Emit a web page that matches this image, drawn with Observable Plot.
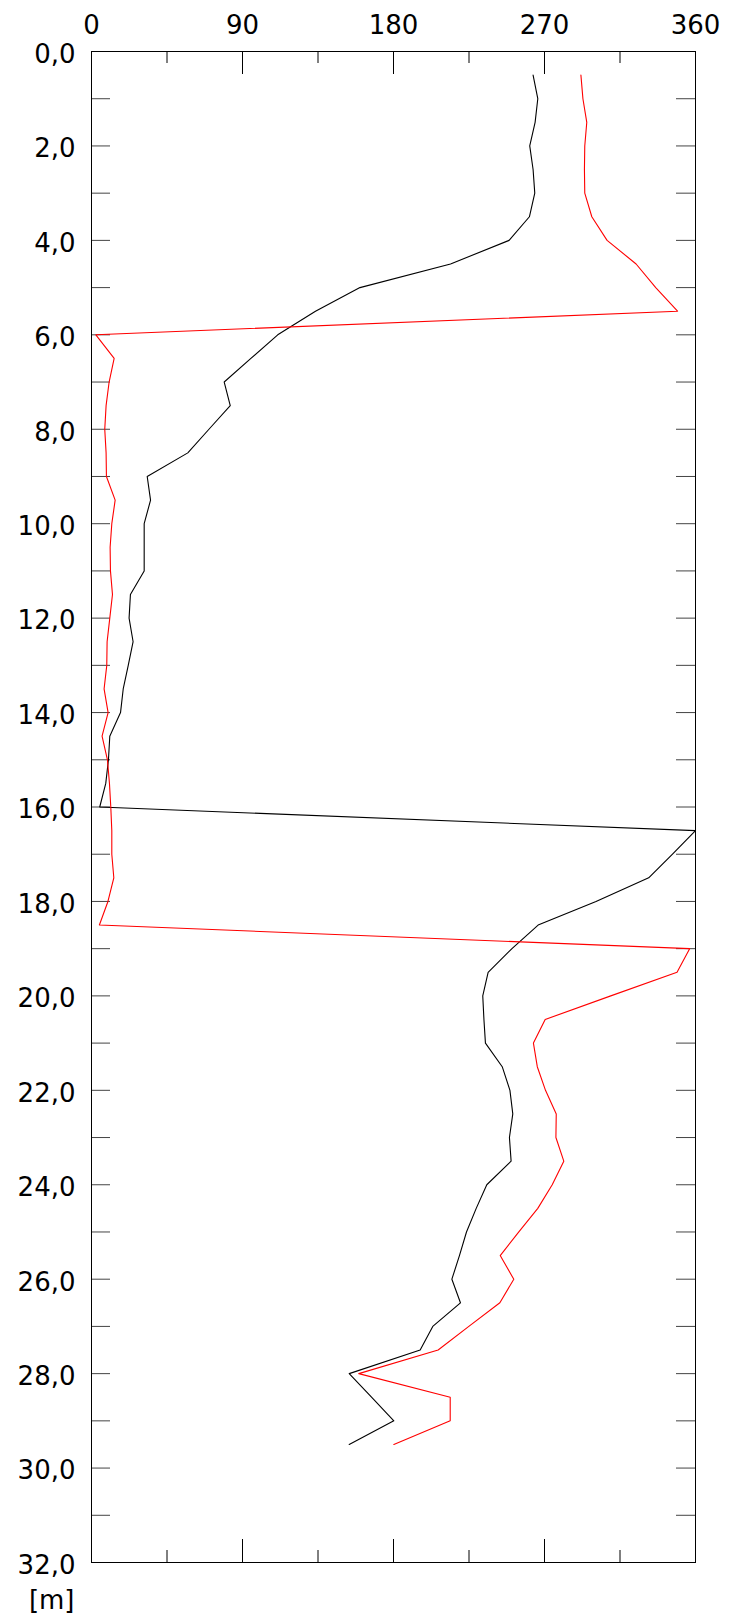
<!DOCTYPE html>
<html>
<head>
<meta charset="utf-8">
<script src="https://cdn.jsdelivr.net/npm/d3@7"></script>
<script src="https://cdn.jsdelivr.net/npm/@observablehq/plot@0.6"></script>
<style>
  html, body { margin: 0; padding: 0; background: #fff; }
</style>
</head>
<body>
<div id="chart"></div>
<script>
// Depth [m]
const depths = [0.5, 1.0, 1.5, 2.0, 2.5, 3.0, 3.5, 4.0, 4.5, 5.0, 5.5, 6.0, 6.5, 7.0, 7.5, 8.0, 8.5, 9.0, 9.5, 10.0,
  10.5, 11.0, 11.5, 12.0, 12.5, 13.0, 13.5, 14.0, 14.5, 15.0, 15.5, 16.0, 16.5, 17.0, 17.5, 18.0, 18.5, 19.0, 19.5, 20.0,
  20.5, 21.0, 21.5, 22.0, 22.5, 23.0, 23.5, 24.0, 24.5, 25.0, 25.5, 26.0, 26.5, 27.0, 27.5, 28.0, 28.5, 29.0, 29.5];

// Black series (degrees)
const blackValues = [263.2, 266.0, 264.4, 261.2, 263.2, 264.2, 261.0, 248.9, 214.0, 160.0, 133.5, 111.0, 95.0, 79.1, 82.7, 70.0, 57.4, 33.2, 35.2, 31.4,
  31.4, 31.4, 23.2, 22.4, 24.8, 21.9, 18.9, 17.3, 10.9, 10.1, 8.5, 4.9, 360, 346.3, 332.1, 300.7, 266.2, 250.6, 236.4, 233.2,
  233.9, 234.8, 244.8, 249.4, 251.1, 249.1, 250.1, 235.6, 229.3, 223.5, 219.3, 214.8, 219.9, 203.4, 195.9, 153.6, 166.9, 180.2, 153.6];

// Red series (degrees)
const redValues = [291.7, 292.9, 295.2, 294.0, 293.8, 294.0, 298.2, 307.3, 324.6, 336.3, 349.3, 2.6, 13.5, 10.5, 8.7, 7.9, 8.7, 8.9, 14.1, 12.1,
  11.1, 11.3, 12.5, 10.9, 9.3, 9.1, 7.5, 9.9, 6.3, 9.5, 10.7, 11.5, 12.1, 12.1, 13.3, 9.8, 4.7, 356.5, 349.0, 309.5,
  270.4, 263.4, 265.7, 270.6, 277.0, 276.8, 281.5, 274.6, 266.0, 254.7, 243.6, 251.7, 243.4, 224.9, 206.6, 159.3, 213.8, 213.8, 180.2];

// Tick values
const xLabelTicks = [0, 90, 180, 270, 360];
const xMajorTicks = [90, 180, 270];
const xMinorTicks = [45, 135, 225, 315];
const yLabelTicks = [0, 2, 4, 6, 8, 10, 12, 14, 16, 18, 20, 22, 24, 26, 28, 30, 32];
const yTicks = [1, 2, 3, 4, 5, 6, 7, 8, 9, 10, 11, 12, 13, 14, 15, 16, 17, 18, 19, 20, 21, 22, 23, 24, 25, 26, 27, 28, 29, 30, 31];
const unitLabel = "[m]";

const W = 739, H = 1618;
const mL = 91, mR = 44, mT = 51, mB = 56;
const innerW = W - mL - mR, innerH = H - mT - mB;

const black = depths.map((d, i) => ({d, v: blackValues[i]}));
const red = depths.map((d, i) => ({d, v: redValues[i]}));

const fmt = d => d.toFixed(1).replace(".", ",");

const chart = Plot.plot({
  width: W,
  height: H,
  marginLeft: mL,
  marginRight: mR,
  marginTop: mT,
  marginBottom: mB,
  style: {fontFamily: "DejaVu Sans", fontSize: "26px", color: "black", background: "white"},
  x: {domain: [0, 360]},
  y: {domain: [0, 32], reverse: true},
  marks: [
    // inward ticks on x (top and bottom)
    Plot.ruleX(xMajorTicks, {x: d => d, insetBottom: innerH - 23, stroke: "black"}),
    Plot.ruleX(xMinorTicks, {x: d => d, insetBottom: innerH - 12, stroke: "black"}),
    Plot.ruleX(xMajorTicks, {x: d => d, insetTop: innerH - 23, stroke: "black"}),
    Plot.ruleX(xMinorTicks, {x: d => d, insetTop: innerH - 12, stroke: "black"}),
    // inward ticks on y (left and right)
    Plot.ruleY(yTicks, {y: d => d, insetRight: innerW - 19, stroke: "#444"}),
    Plot.ruleY(yTicks, {y: d => d, insetLeft: innerW - 19, stroke: "#444"}),
    Plot.frame({stroke: "black"}),
    Plot.axisX({anchor: "top", ticks: xLabelTicks, tickSize: 0, tickPadding: 18, fontSize: 26, label: null, tickFormat: d => String(d)}),
    Plot.axisY({anchor: "left", ticks: yLabelTicks, tickSize: 0, tickPadding: 16, fontSize: 26, label: null, tickFormat: fmt, dy: 3}),
    Plot.line(black, {x: "v", y: "d", stroke: "black", strokeWidth: 1.1}),
    Plot.line(red, {x: "v", y: "d", stroke: "#ff0000", strokeWidth: 1.1}),
    Plot.text([unitLabel], {frameAnchor: "bottom-left", text: d => d, dx: -17, dy: 46, textAnchor: "end", fontSize: 26, fill: "black"})
  ]
});
document.getElementById("chart").appendChild(chart);
</script>
</body>
</html>
